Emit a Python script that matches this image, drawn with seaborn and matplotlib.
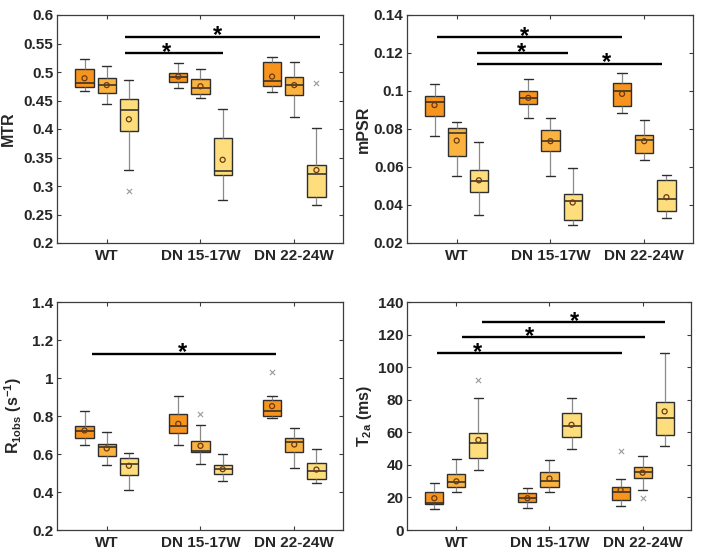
import numpy as np
import pandas as pd
import matplotlib
matplotlib.use("Agg")
import matplotlib.pyplot as plt
import seaborn as sns

# ---------------- data ----------------
groups = ["WT", "DN 15-17W", "DN 22-24W"]
series = ["S1", "S2", "S3"]
colors = ["#F7941D", "#FBB33F", "#FDDD7C"]

# order of 9 entries: WT s1,s2,s3, DN15 s1,s2,s3, DN22 s1,s2,s3
mtr_wlo = [0.467, 0.443, 0.328, 0.472, 0.455, 0.275, 0.465, 0.421, 0.267]
mtr_q1 = [0.473, 0.464, 0.397, 0.482, 0.461, 0.3195, 0.475, 0.459, 0.280]
mtr_med = [0.481, 0.478, 0.434, 0.492, 0.472, 0.327, 0.485, 0.478, 0.321]
mtr_q3 = [0.5045, 0.489, 0.452, 0.499, 0.487, 0.384, 0.517, 0.492, 0.337]
mtr_whi = [0.522, 0.510, 0.486, 0.516, 0.505, 0.435, 0.526, 0.517, 0.401]
mtr_mean = [0.489, 0.477, 0.417, 0.492, 0.475, 0.346, 0.492, 0.477, 0.328]
mtr_out_idx = [2, 8]
mtr_out_val = [0.291, 0.480]

mpsr_wlo = [0.0764, 0.0551, 0.0348, 0.0857, 0.0555, 0.0297, 0.0882, 0.0639, 0.0333]
mpsr_q1 = [0.0869, 0.066, 0.047, 0.0929, 0.0683, 0.0323, 0.092, 0.0674, 0.0367]
mpsr_med = [0.094, 0.078, 0.0527, 0.0964, 0.0736, 0.0423, 0.0999, 0.0743, 0.043]
mpsr_q3 = [0.0975, 0.0806, 0.0583, 0.0999, 0.0794, 0.0458, 0.104, 0.0766, 0.0529]
mpsr_whi = [0.1035, 0.0838, 0.0731, 0.1061, 0.0857, 0.0595, 0.1096, 0.0847, 0.0558]
mpsr_mean = [0.0926, 0.0739, 0.053, 0.0964, 0.0736, 0.0413, 0.0985, 0.0736, 0.0441]
mpsr_out_idx = []
mpsr_out_val = []

r1_wlo = [0.645, 0.540, 0.412, 0.647, 0.550, 0.457, 0.787, 0.527, 0.447]
r1_q1 = [0.682, 0.592, 0.492, 0.711, 0.608, 0.494, 0.799, 0.608, 0.468]
r1_med = [0.720, 0.636, 0.550, 0.748, 0.617, 0.519, 0.825, 0.662, 0.512]
r1_q3 = [0.750, 0.654, 0.578, 0.808, 0.671, 0.542, 0.883, 0.685, 0.552]
r1_whi = [0.827, 0.715, 0.605, 0.906, 0.755, 0.598, 0.904, 0.738, 0.624]
r1_mean = [0.724, 0.629, 0.538, 0.759, 0.643, 0.520, 0.852, 0.650, 0.518]
r1_out_idx = [4, 6]
r1_out_val = [0.808, 1.032]

t2_wlo = [13.1, 23.4, 36.9, 13.7, 23.1, 50.0, 14.5, 24.6, 51.6]
t2_q1 = [15.8, 26.2, 44.3, 17.2, 26.2, 56.8, 18.2, 31.8, 58.2]
t2_med = [16.8, 29.3, 53.3, 19.5, 29.9, 64.1, 23.4, 35.6, 68.7]
t2_q3 = [23.2, 34.2, 59.8, 22.5, 35.5, 72.1, 26.6, 38.9, 78.7]
t2_whi = [28.7, 43.4, 81.2, 25.6, 42.8, 81.2, 31.6, 45.5, 108.6]
t2_mean = [19.5, 29.9, 55.3, 19.5, 31.6, 64.6, 24.6, 35.2, 72.8]
t2_out_idx = [2, 6, 7]
t2_out_val = [92.2, 48.4, 19.9]

# significance bars: (x start, x end, y, asterisk x)
mtr_sig = [(0.19, 1.24, 0.533, 0.64), (0.19, 2.27, 0.562, 1.18)]
mpsr_sig = [(-0.21, 1.76, 0.1282, 0.72), (0.22, 1.19, 0.1198, 0.69), (0.22, 2.19, 0.1143, 1.60)]
r1_sig = [(-0.16, 1.81, 1.128, 0.81)]
t2_sig = [(-0.21, 1.78, 108.4, 0.23), (0.064, 2.03, 118.3, 0.79), (0.28, 2.24, 127.5, 1.27)]

mtr_ticks = [0.2, 0.25, 0.3, 0.35, 0.4, 0.45, 0.5, 0.55, 0.6]
mpsr_ticks = [0.02, 0.04, 0.06, 0.08, 0.1, 0.12, 0.14]
r1_ticks = [0.2, 0.4, 0.6, 0.8, 1, 1.2, 1.4]
t2_ticks = [0, 20, 40, 60, 80, 100, 120, 140]

# ---------------- style ----------------
sns.set_theme(style="white")
plt.rcParams["font.family"] = ["Liberation Sans", "DejaVu Sans"]
plt.rcParams["font.weight"] = "bold"
plt.rcParams["mathtext.fontset"] = "custom"
plt.rcParams["mathtext.rm"] = "Liberation Sans:bold"
plt.rcParams["mathtext.it"] = "Liberation Sans:bold"
plt.rcParams["mathtext.bf"] = "Liberation Sans:bold"
plt.rcParams["mathtext.default"] = "bf"

fig = plt.figure(figsize=(7.01, 5.55), dpi=100)
W, H = 701, 555
def axpos(l, t, r, b):
    return [l / W, (H - b) / H, (r - l) / W, (b - t) / H]

panels = [
    dict(pos=axpos(57, 15, 343, 243), wlo=mtr_wlo, q1=mtr_q1, med=mtr_med, q3=mtr_q3,
         whi=mtr_whi, mean=mtr_mean, oi=mtr_out_idx, ov=mtr_out_val, sig=mtr_sig,
         ticks=mtr_ticks, label="MTR", lpad=6),
    dict(pos=axpos(407, 15, 693, 243), wlo=mpsr_wlo, q1=mpsr_q1, med=mpsr_med, q3=mpsr_q3,
         whi=mpsr_whi, mean=mpsr_mean, oi=mpsr_out_idx, ov=mpsr_out_val, sig=mpsr_sig,
         ticks=mpsr_ticks, label="mPSR", lpad=2),
    dict(pos=axpos(57, 302, 343, 530), wlo=r1_wlo, q1=r1_q1, med=r1_med, q3=r1_q3,
         whi=r1_whi, mean=r1_mean, oi=r1_out_idx, ov=r1_out_val, sig=r1_sig,
         ticks=r1_ticks, label=r"R$_{\mathbf{1obs}}$ (s$^{\mathbf{-1}}$)", lpad=6),
    dict(pos=axpos(407, 302, 691, 530), wlo=t2_wlo, q1=t2_q1, med=t2_med, q3=t2_q3,
         whi=t2_whi, mean=t2_mean, oi=t2_out_idx, ov=t2_out_val, sig=t2_sig,
         ticks=t2_ticks, label=r"T$_{\mathbf{2a}}$ (ms)", lpad=3),
]

WIDTH = 0.71
step = WIDTH / 3
spine_c = "#3c3c3c"

for p in panels:
    ax = fig.add_axes(p["pos"])
    rows = []
    for i in range(9):
        g = groups[i // 3]
        s = series[i % 3]
        for v in (p["wlo"][i], p["q1"][i], p["med"][i], p["q3"][i], p["whi"][i]):
            rows.append((g, s, v))
    df = pd.DataFrame(rows, columns=["group", "series", "value"])
    sns.boxplot(data=df, x="group", y="value", hue="series", order=groups,
                hue_order=series, palette=colors, width=WIDTH, gap=0.18,
                whis=(0, 100), showfliers=False, saturation=1, legend=False,
                ax=ax,
                boxprops=dict(edgecolor="#2e2e2e", linewidth=1.0),
                medianprops=dict(color="#2a2a2a", linewidth=1.1),
                whiskerprops=dict(color="#8a8a8a", linewidth=0.9),
                capprops=dict(color="#2e2e2e", linewidth=1.0))
    # means
    xs = [i // 3 + (i % 3 - 1) * step for i in range(9)]
    ax.scatter(xs, p["mean"], s=13, facecolors="none", edgecolors="#6b3a12",
               linewidths=0.9, zorder=5)
    # outliers
    if p["oi"]:
        ox = [i // 3 + (i % 3 - 1) * step for i in p["oi"]]
        ax.scatter(ox, p["ov"], marker="x", s=14, color="#9a9a9a", linewidths=0.8, zorder=5)
    # significance bars
    for x0, x1, y, xs_ in p["sig"]:
        ax.plot([x0, x1], [y, y], color="black", lw=1.7, solid_capstyle="butt", zorder=4)
        ax.annotate("*", xy=(xs_, y), xytext=(0, 0.8), textcoords="offset points",
                    ha="center", va="center", fontsize=17, fontweight="bold", color="black")
    ticks = p["ticks"]
    ax.set_ylim(ticks[0], ticks[-1])
    ax.set_yticks(ticks)
    ax.set_yticklabels([f"{t:g}" for t in ticks])
    ax.set_xlim(-0.53, 2.52)
    ax.set_xlabel("")
    ax.set_ylabel(p["label"], fontsize=11.5, fontweight="bold", labelpad=p["lpad"])
    ax.tick_params(axis="both", direction="in", length=3, width=0.8, color=spine_c,
                   labelsize=11, top=True, right=True, bottom=True, left=True)
    ax.tick_params(axis="y", pad=2.5)
    ax.tick_params(axis="x", pad=4)
    for lab in ax.get_xticklabels() + ax.get_yticklabels():
        lab.set_fontweight("bold")
    for sp in ax.spines.values():
        sp.set_color(spine_c)
        sp.set_linewidth(0.9)

fig.savefig("out.png", dpi=100)
